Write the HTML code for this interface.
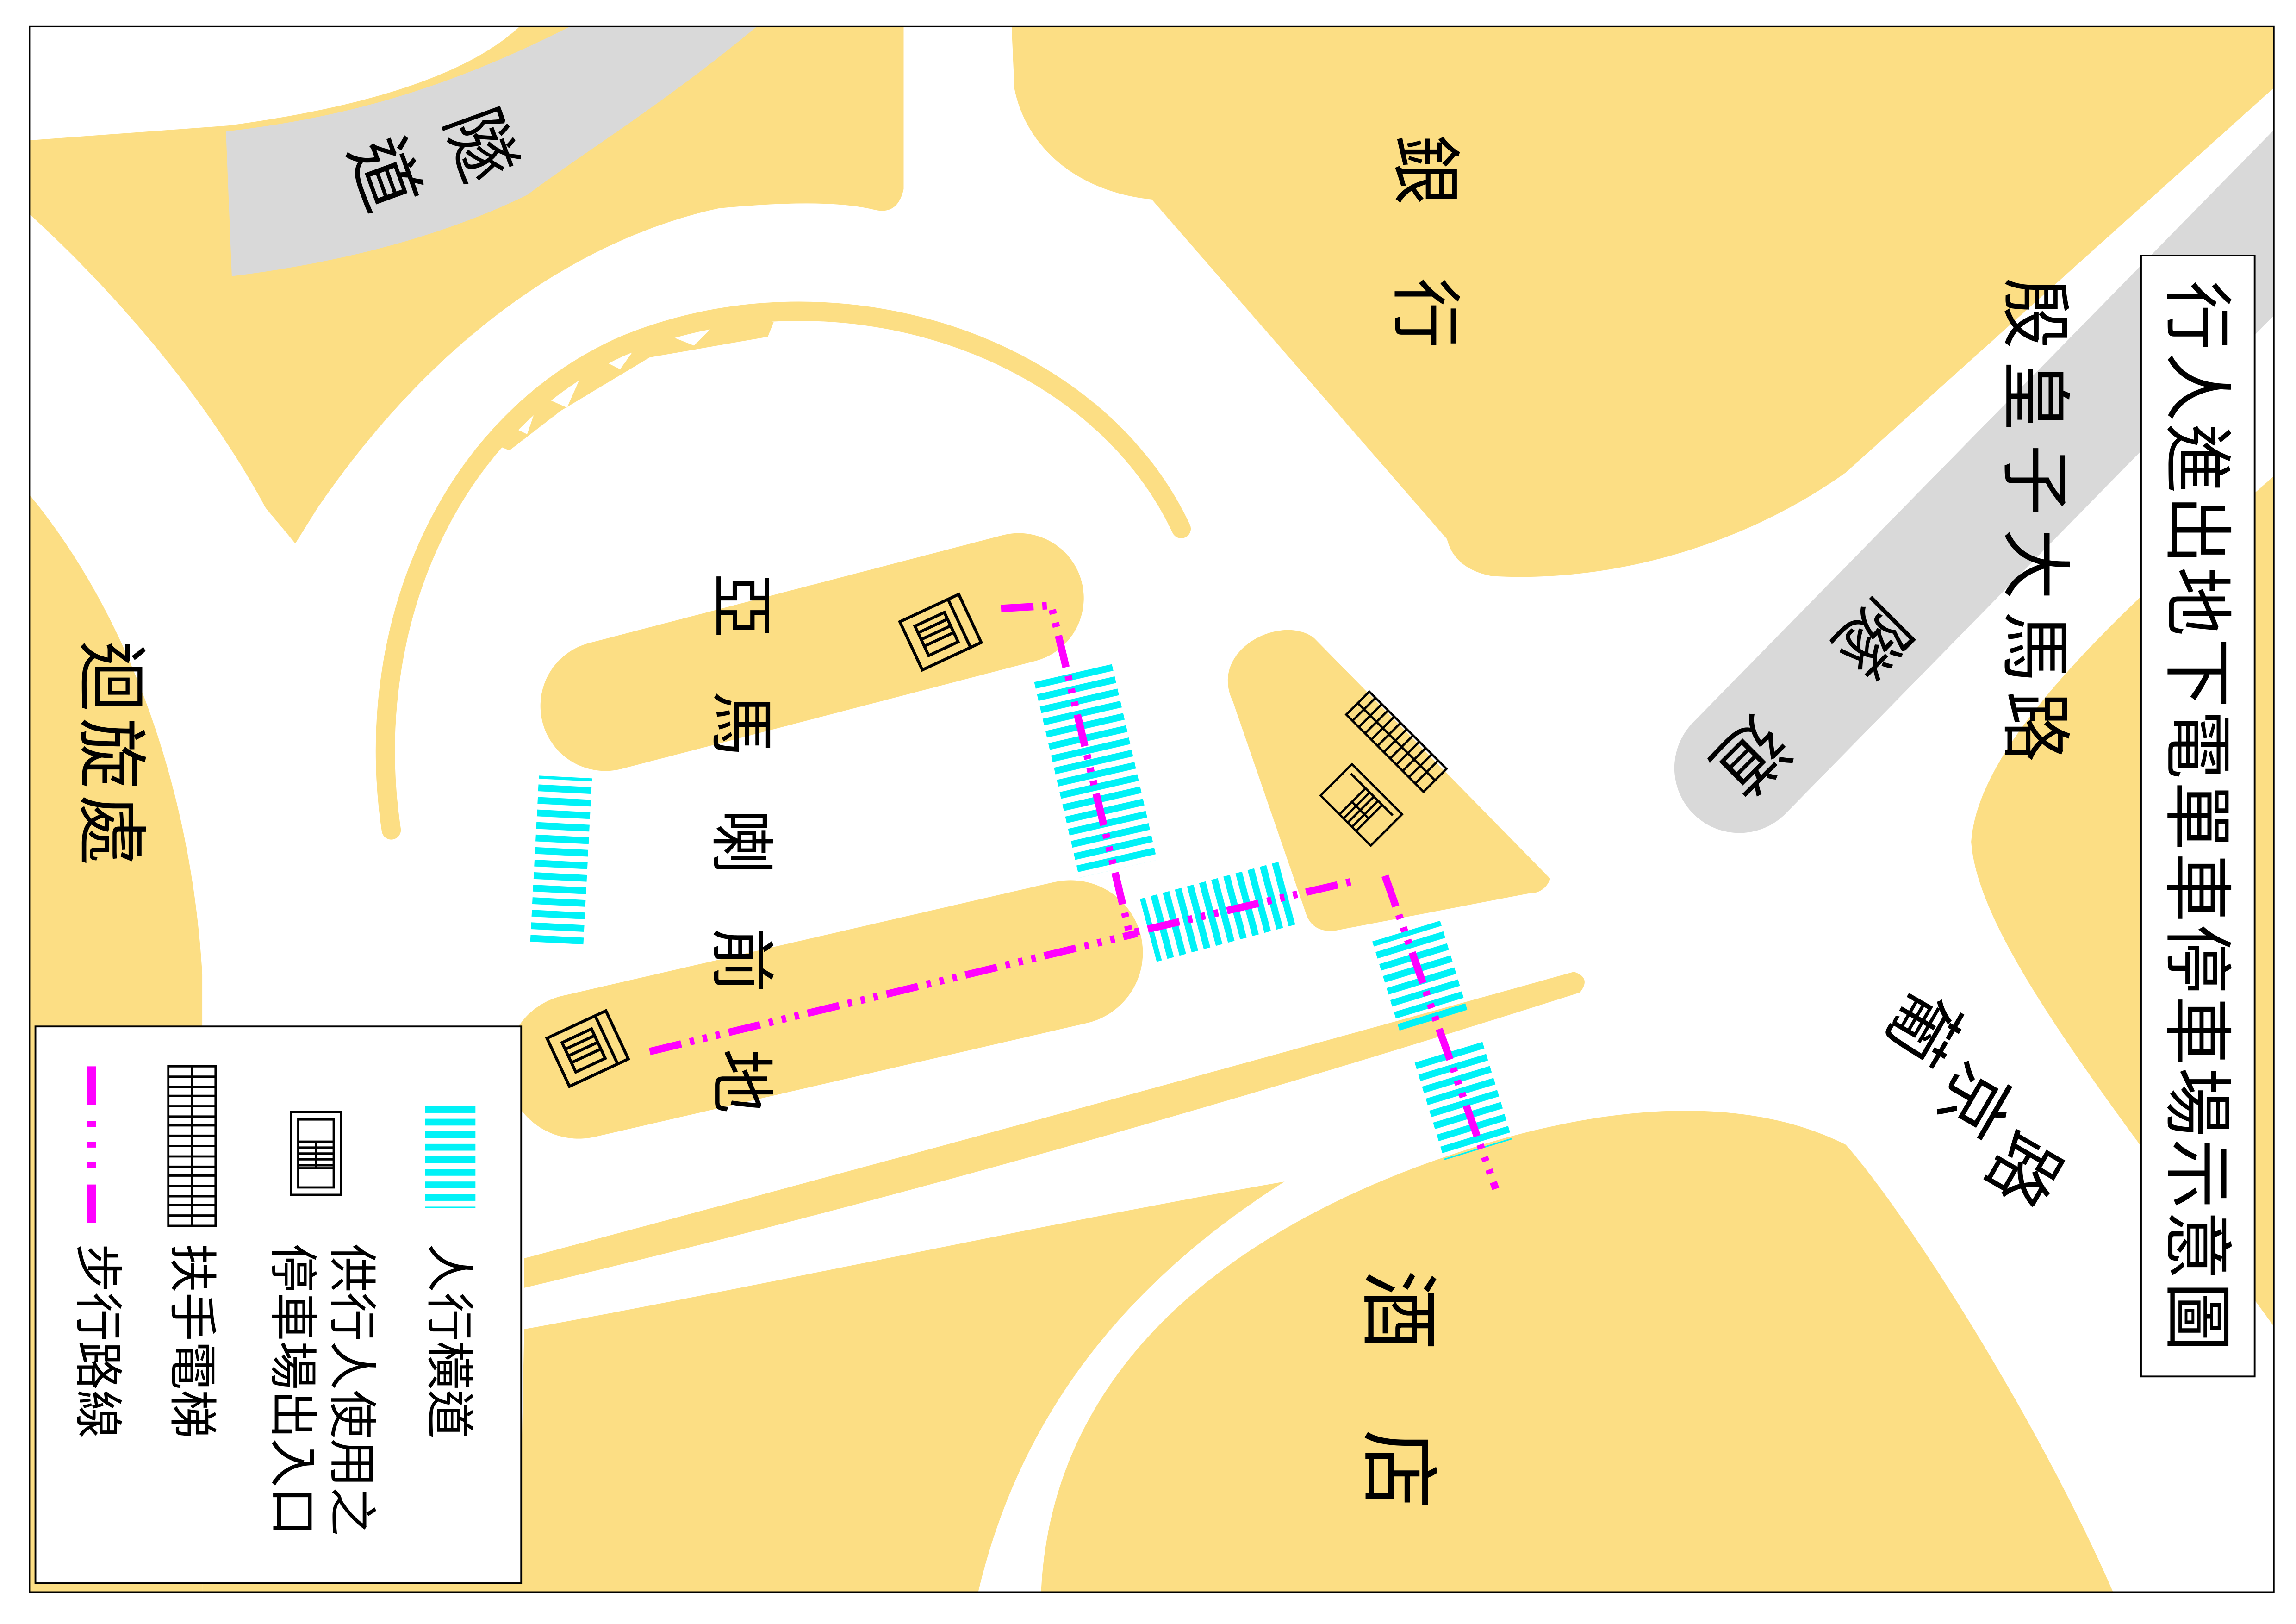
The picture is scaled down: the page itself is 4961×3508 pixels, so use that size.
<!DOCTYPE html>
<html><head><meta charset="utf-8"><style>
html,body{margin:0;padding:0;background:#fff}
svg{display:block}
text{font-family:"Liberation Sans","Noto Sans CJK TC",sans-serif;fill:#000}
</style></head><body>
<svg width="4961" height="3508" viewBox="0 0 1555 1099.6" preserveAspectRatio="none" xmlns="http://www.w3.org/2000/svg">
<defs>
<pattern id="hs" patternUnits="userSpaceOnUse" width="10" height="8.5"><rect x="0" y="0" width="10" height="4.6" fill="#00f2f7"/></pattern>
<pattern id="vs" patternUnits="userSpaceOnUse" width="8.5" height="10"><rect x="0" y="0" width="4.6" height="10" fill="#00f2f7"/></pattern>
<clipPath id="fr"><rect x="20" y="18" width="1520" height="1060"/></clipPath>
</defs>
<rect width="1555" height="1100" fill="#fff"/>
<g clip-path="url(#fr)" fill="#fcde84">
<path d="M20,95 L155,85 C250,72 320,50 355,15 L612,15 L612,128 Q608,146 592,142 Q560,134 487,141 C400,160 300,220 215,344 L200,368 L180,344 C140,270 80,200 20,145 Z"/>
<path fill="#d9d9d9" d="M153,89 C230,80 300,62 390,16 L515,16 C450,70 400,100 357,132 C300,160 230,178 157,187 Z"/>
<path d="M20,335 C90,420 130,540 137,660 L137,1080 L20,1080 Z"/>
<path d="M265,562 C245,430 300,290 420,235 C560,175 740,230 800,358" fill="none" stroke="#fcde84" stroke-width="13" stroke-linecap="round"/>
<polygon points="333,300 340,286 357,294 366,268 384,276 400,240 420,250 440,222 470,234 492,212 524,218 520,228 440,242 380,278 345,305"/>
<line x1="410" y1="478" x2="690" y2="405" stroke="#fcde84" stroke-width="88" stroke-linecap="round"/>
<line x1="392" y1="722" x2="725" y2="645" stroke="#fcde84" stroke-width="98" stroke-linecap="round"/>
<path d="M355,852 Q700,760 1066,658 Q1078,662 1070,672 Q700,790 355,872 Z"/>
<path d="M137,1000 L353,1000 L355,900 C520,870 700,830 870,800 C760,870 690,960 662,1080 L137,1080 Z"/>
<path d="M705,1080 C710,950 800,850 960,790 C1080,745 1180,740 1250,775 C1290,820 1380,960 1432,1080 Z"/>
<path d="M685,15 L1545,15 L1545,55 L1250,320 C1180,370 1090,395 1010,390 Q985,385 980,365 L780,135 C730,130 695,100 687,60 Z"/>
<line x1="1580" y1="110" x2="1178" y2="520" stroke="#d9d9d9" stroke-width="88" stroke-linecap="round"/>
<path d="M1545,318 C1440,410 1340,500 1335,570 C1340,640 1440,760 1545,905 Z"/>
<path d="M835,475 C818,440 868,415 890,432 L1050,595 Q1046,605 1035,605 L905,630 Q890,632 885,620 Z"/>
</g>
<rect x="20" y="18" width="1520" height="1060" fill="none" stroke="#000" stroke-width="1"/>

<g transform="translate(380,583) rotate(3)"><rect x="-18" y="-57" width="36" height="115" fill="url(#hs)"/></g>
<g transform="translate(742,522) rotate(-13)"><rect x="-27" y="-68" width="54" height="136" fill="url(#hs)"/></g>
<g transform="translate(826,617) rotate(-15)"><rect x="-50" y="-22" width="100" height="44" fill="url(#vs)"/></g>
<g transform="translate(962,662) rotate(-17)"><rect x="-24" y="-33" width="48" height="66" fill="url(#hs)"/></g>
<g transform="translate(991,745) rotate(-17)"><rect x="-24" y="-35" width="48" height="70" fill="url(#hs)"/></g>

<g fill="none" stroke="#ff00ff" stroke-width="5" stroke-dasharray="22 6 3 6 3 6 3 6">
<path d="M678,412 L712,410 L765,632 L915,597"/>
<path d="M938,593 L1013,805"/>
<path d="M440,712 L770,632"/>
</g>

<g fill="none" stroke="#000" stroke-width="2">
<g transform="translate(637,428) rotate(-25)"><rect x="-22" y="-18" width="44" height="36"/><rect x="-14" y="-11" width="22" height="22"/><path d="M-14,-6 H8 M-14,-1 H8 M-14,4 H8"/><line x1="14" y1="-18" x2="14" y2="18"/></g>
<g transform="translate(398,710) rotate(-25)"><rect x="-22" y="-18" width="44" height="36"/><rect x="-14" y="-11" width="22" height="22"/><path d="M-14,-6 H8 M-14,-1 H8 M-14,4 H8"/><line x1="14" y1="-18" x2="14" y2="18"/></g>
<g stroke-width="1.5" transform="translate(945,510) rotate(-45)"><rect x="-5" y="-42" width="22" height="74"/><path d="M6,-42 V32 M-5,-36 H17 M-5,-30 H17 M-5,-24 H17 M-5,-18 H17 M-5,-12 H17 M-5,-6 H17 M-5,0 H17 M-5,6 H17 M-5,12 H17 M-5,18 H17 M-5,24 H17"/></g>
<g stroke-width="1.5" transform="translate(922,545) rotate(-45)"><rect x="-15" y="-24" width="30" height="48"/><path d="M-15,-6 H10 M-15,-2 H10 M-15,2 H10 M-15,6 H10 M-15,10 H10 M-3,-6 V10 M10,-20 V20"/></g>
</g>

<g font-size="48" dominant-baseline="central" text-anchor="middle">
<text transform="translate(325,98) rotate(70)">隧</text>
<text transform="translate(260,118) rotate(70)">道</text>
<text transform="translate(965,115) rotate(90)">銀</text>
<text transform="translate(965,212) rotate(90)">行</text>
<text transform="translate(1378,212) rotate(90)">殷</text>
<text transform="translate(1378,268) rotate(90)">皇</text>
<text transform="translate(1378,325) rotate(90)">子</text>
<text transform="translate(1378,382) rotate(90)">大</text>
<text transform="translate(1378,438) rotate(90)">馬</text>
<text transform="translate(1378,492) rotate(90)">路</text>
<text transform="translate(1268,432) rotate(135)">隧</text>
<text transform="translate(1185,512) rotate(135)">道</text>
<text transform="translate(502,410) rotate(90)" font-size="44">亞</text>
<text transform="translate(502,490) rotate(90)" font-size="44">馬</text>
<text transform="translate(502,570) rotate(90)" font-size="44">喇</text>
<text transform="translate(502,650) rotate(90)" font-size="44">前</text>
<text transform="translate(502,732) rotate(90)" font-size="44">地</text>
<text transform="translate(75,458) rotate(90)">迴</text>
<text transform="translate(75,510) rotate(90)">旋</text>
<text transform="translate(75,562) rotate(90)">處</text>
<text transform="translate(1302,695) rotate(120)">葡</text>
<text transform="translate(1337,745) rotate(120)">京</text>
<text transform="translate(1370,792) rotate(120)">路</text>
<text transform="translate(947,887) rotate(90)" font-size="54">酒</text>
<text transform="translate(947,995) rotate(90)" font-size="54">店</text>
</g>

<rect x="1450" y="173" width="77" height="759" fill="#fff" stroke="#000" stroke-width="1.2"/>
<text transform="translate(1488,190) rotate(90)" font-size="47" dominant-baseline="central" textLength="725" lengthAdjust="spacing">行人進出地下電單車停車場示意圖</text>

<rect x="24" y="695" width="329" height="377" fill="#fff" stroke="#000" stroke-width="1.2"/>
<g transform="translate(305,783)"><rect x="-17" y="-35" width="34" height="70" fill="url(#hs)"/></g>
<g fill="none" stroke="#000" stroke-width="1.5" transform="translate(214,781)"><rect x="-17" y="-28" width="34" height="56"/><rect x="-12" y="-23" width="24" height="46"/><path d="M-12,-8 H12 M-12,-4 H12 M-12,0 H12 M-12,4 H12 M-12,8 H12 M0,-8 V10 M-12,10 H12"/></g>
<g fill="none" stroke="#000" stroke-width="1.5" transform="translate(130,776)"><rect x="-16" y="-54" width="32" height="108"/><path d="M0,-54 V54 M-16,-47 H16 M-16,-40 H16 M-16,-34 H16 M-16,-27 H16 M-16,-20 H16 M-16,-14 H16 M-16,-7 H16 M-16,0 H16 M-16,7 H16 M-16,14 H16 M-16,20 H16 M-16,27 H16 M-16,34 H16 M-16,40 H16 M-16,47 H16"/></g>
<line x1="62" y1="722" x2="62" y2="830" stroke="#ff00ff" stroke-width="6" stroke-dasharray="26 11 4 10 4 10 4 11"/>
<g font-size="33" dominant-baseline="central">
<text transform="translate(304,842) rotate(90)">人行橫道</text>
<text transform="translate(238,842) rotate(90)">供行人使用之</text>
<text transform="translate(198,842) rotate(90)">停車場出入口</text>
<text transform="translate(130,842) rotate(90)">扶手電梯</text>
<text transform="translate(66,842) rotate(90)">步行路線</text>
</g>
</svg>
</body></html>
